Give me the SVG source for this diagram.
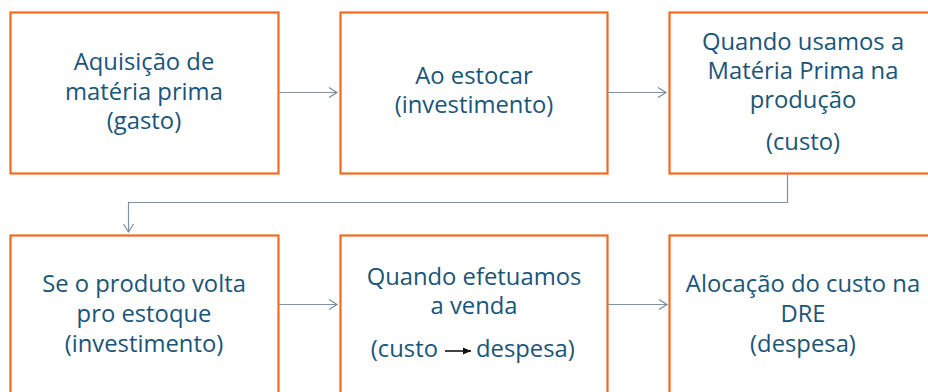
<svg xmlns="http://www.w3.org/2000/svg" width="928" height="392" viewBox="0 0 928 392">
<defs>
<marker id="open" markerWidth="12" markerHeight="12" refX="10" refY="6" orient="auto" markerUnits="userSpaceOnUse">
<path d="M2,1 L10,6 L2,11" fill="none" stroke="#6f8799" stroke-width="1.1"/>
</marker>
<marker id="solid" markerWidth="10" markerHeight="10" refX="8" refY="5" orient="auto" markerUnits="userSpaceOnUse">
<path d="M0,1.5 L8,5 L0,8.5 Z" fill="#111"/>
</marker>
<style>
.box{fill:#fff;stroke:#f26b1d;stroke-width:2.2}
.t{font-family:"Open Sans","Liberation Sans",sans-serif;font-size:23.8px;fill:#1a5577;text-anchor:middle}
.c{fill:none;stroke:#7f93a4;stroke-width:1.2}
</style>
</defs>
<rect width="928" height="392" fill="#fff"/>
<g id="n1"><rect class="box" x="10.5" y="12.5" width="268" height="161"/>
<text class="t" x="144" y="70">Aquisição de</text>
<text class="t" x="144" y="100">matéria prima</text>
<text class="t" x="144" y="129">(gasto)</text></g>
<g id="n2"><rect class="box" x="340.5" y="12.5" width="267" height="161"/>
<text class="t" x="474" y="84">Ao estocar</text>
<text class="t" x="474" y="113">(investimento)</text></g>
<g id="n3"><rect class="box" x="669.5" y="12.5" width="268" height="161"/>
<text class="t" x="803" y="50">Quando usamos a</text>
<text class="t" x="803" y="79">Matéria Prima na</text>
<text class="t" x="803" y="108">produção</text>
<text class="t" x="803" y="150">(custo)</text></g>
<g id="n4"><rect class="box" x="10.5" y="235.5" width="268" height="170"/>
<text class="t" x="144" y="292">Se o produto volta</text>
<text class="t" x="144" y="322">pro estoque</text>
<text class="t" x="144" y="352">(investimento)</text></g>
<g id="n5"><rect class="box" x="340.5" y="235.5" width="267" height="170"/>
<text class="t" x="474" y="285">Quando efetuamos</text>
<text class="t" x="474" y="314">a venda</text>
<text class="t" x="438" y="357" style="text-anchor:end">(custo</text>
<line x1="445" y1="351" x2="471" y2="351" stroke="#111" stroke-width="1.6" marker-end="url(#solid)"/>
<text class="t" x="476" y="357" style="text-anchor:start">despesa)</text></g>
<g id="n6"><rect class="box" x="669.5" y="235.5" width="268" height="170"/>
<text class="t" x="803" y="292">Alocação do custo na</text>
<text class="t" x="803" y="322">DRE</text>
<text class="t" x="803" y="352">(despesa)</text></g>
<g id="connectors">
<line class="c" x1="279" y1="92.5" x2="337" y2="92.5" marker-end="url(#open)"/>
<line class="c" x1="608" y1="92.5" x2="666" y2="92.5" marker-end="url(#open)"/>
<polyline class="c" points="787.5,173 787.5,202.5 128.5,202.5 128.5,232" marker-end="url(#open)"/>
<line class="c" x1="279" y1="304.5" x2="337" y2="304.5" marker-end="url(#open)"/>
<line class="c" x1="608" y1="304.5" x2="667" y2="304.5" marker-end="url(#open)"/>
</g>
</svg>
